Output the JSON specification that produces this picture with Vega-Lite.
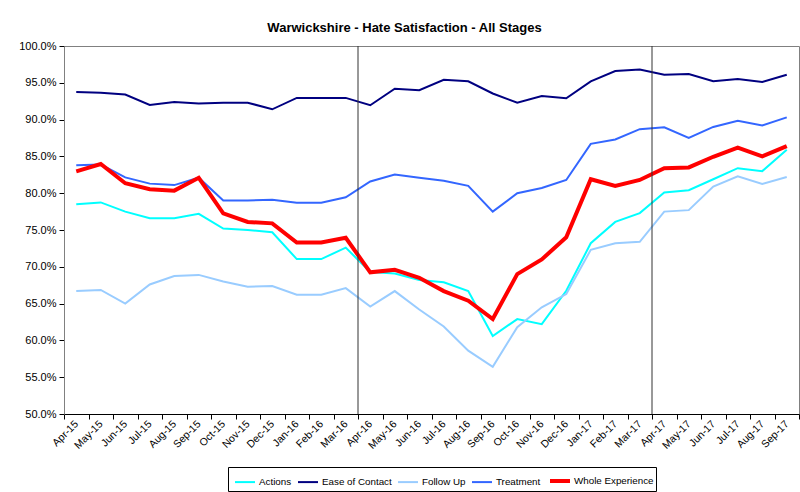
{
  "$schema": "https://vega.github.io/schema/vega-lite/v6.json",
  "width": 735,
  "height": 368,
  "autosize": {"type": "none"},
  "padding": {"left": 64, "top": 46, "right": 1, "bottom": 78},
  "background": "white",
  "config": {
    "font": "Liberation Sans",
    "view": {"stroke": "#808080", "strokeWidth": 1},
    "axis": {"labelFont": "Liberation Sans", "labelColor": "#000000", "grid": false}
  },
  "title": {
    "text": "Warwickshire - Hate Satisfaction - All Stages",
    "font": "Liberation Sans",
    "fontSize": 13,
    "fontWeight": "bold",
    "color": "#000000",
    "anchor": "middle",
    "dx": -27,
    "offset": 5
  },
  "layer": [
    {
      "data": {"values": [
        {"m":"Apr-15","s":"Actions","v":78.5},{"m":"May-15","s":"Actions","v":78.75},{"m":"Jun-15","s":"Actions","v":77.5},{"m":"Jul-15","s":"Actions","v":76.6},{"m":"Aug-15","s":"Actions","v":76.6},{"m":"Sep-15","s":"Actions","v":77.2},{"m":"Oct-15","s":"Actions","v":75.2},{"m":"Nov-15","s":"Actions","v":75.0},{"m":"Dec-15","s":"Actions","v":74.7},{"m":"Jan-16","s":"Actions","v":71.05},{"m":"Feb-16","s":"Actions","v":71.05},{"m":"Mar-16","s":"Actions","v":72.6},{"m":"Apr-16","s":"Actions","v":69.3},{"m":"May-16","s":"Actions","v":69.1},{"m":"Jun-16","s":"Actions","v":68.2},{"m":"Jul-16","s":"Actions","v":67.9},{"m":"Aug-16","s":"Actions","v":66.7},{"m":"Sep-16","s":"Actions","v":60.6},{"m":"Oct-16","s":"Actions","v":62.9},{"m":"Nov-16","s":"Actions","v":62.2},{"m":"Dec-16","s":"Actions","v":66.75},{"m":"Jan-17","s":"Actions","v":73.2},{"m":"Feb-17","s":"Actions","v":76.1},{"m":"Mar-17","s":"Actions","v":77.3},{"m":"Apr-17","s":"Actions","v":80.1},{"m":"May-17","s":"Actions","v":80.4},{"m":"Jun-17","s":"Actions","v":81.9},{"m":"Jul-17","s":"Actions","v":83.4},{"m":"Aug-17","s":"Actions","v":83.0},{"m":"Sep-17","s":"Actions","v":85.9},
        {"m":"Apr-15","s":"Ease of Contact","v":93.75},{"m":"May-15","s":"Ease of Contact","v":93.65},{"m":"Jun-15","s":"Ease of Contact","v":93.4},{"m":"Jul-15","s":"Ease of Contact","v":92.0},{"m":"Aug-15","s":"Ease of Contact","v":92.4},{"m":"Sep-15","s":"Ease of Contact","v":92.2},{"m":"Oct-15","s":"Ease of Contact","v":92.3},{"m":"Nov-15","s":"Ease of Contact","v":92.3},{"m":"Dec-15","s":"Ease of Contact","v":91.4},{"m":"Jan-16","s":"Ease of Contact","v":92.95},{"m":"Feb-16","s":"Ease of Contact","v":92.95},{"m":"Mar-16","s":"Ease of Contact","v":92.95},{"m":"Apr-16","s":"Ease of Contact","v":91.95},{"m":"May-16","s":"Ease of Contact","v":94.2},{"m":"Jun-16","s":"Ease of Contact","v":94.0},{"m":"Jul-16","s":"Ease of Contact","v":95.4},{"m":"Aug-16","s":"Ease of Contact","v":95.2},{"m":"Sep-16","s":"Ease of Contact","v":93.55},{"m":"Oct-16","s":"Ease of Contact","v":92.3},{"m":"Nov-16","s":"Ease of Contact","v":93.2},{"m":"Dec-16","s":"Ease of Contact","v":92.9},{"m":"Jan-17","s":"Ease of Contact","v":95.2},{"m":"Feb-17","s":"Ease of Contact","v":96.6},{"m":"Mar-17","s":"Ease of Contact","v":96.8},{"m":"Apr-17","s":"Ease of Contact","v":96.1},{"m":"May-17","s":"Ease of Contact","v":96.2},{"m":"Jun-17","s":"Ease of Contact","v":95.2},{"m":"Jul-17","s":"Ease of Contact","v":95.5},{"m":"Aug-17","s":"Ease of Contact","v":95.1},{"m":"Sep-17","s":"Ease of Contact","v":96.1},
        {"m":"Apr-15","s":"Follow Up","v":66.7},{"m":"May-15","s":"Follow Up","v":66.85},{"m":"Jun-15","s":"Follow Up","v":65.0},{"m":"Jul-15","s":"Follow Up","v":67.6},{"m":"Aug-15","s":"Follow Up","v":68.75},{"m":"Sep-15","s":"Follow Up","v":68.9},{"m":"Oct-15","s":"Follow Up","v":68.0},{"m":"Nov-15","s":"Follow Up","v":67.3},{"m":"Dec-15","s":"Follow Up","v":67.4},{"m":"Jan-16","s":"Follow Up","v":66.2},{"m":"Feb-16","s":"Follow Up","v":66.2},{"m":"Mar-16","s":"Follow Up","v":67.1},{"m":"Apr-16","s":"Follow Up","v":64.6},{"m":"May-16","s":"Follow Up","v":66.7},{"m":"Jun-16","s":"Follow Up","v":64.2},{"m":"Jul-16","s":"Follow Up","v":61.9},{"m":"Aug-16","s":"Follow Up","v":58.6},{"m":"Sep-16","s":"Follow Up","v":56.4},{"m":"Oct-16","s":"Follow Up","v":61.8},{"m":"Nov-16","s":"Follow Up","v":64.5},{"m":"Dec-16","s":"Follow Up","v":66.3},{"m":"Jan-17","s":"Follow Up","v":72.3},{"m":"Feb-17","s":"Follow Up","v":73.2},{"m":"Mar-17","s":"Follow Up","v":73.4},{"m":"Apr-17","s":"Follow Up","v":77.5},{"m":"May-17","s":"Follow Up","v":77.7},{"m":"Jun-17","s":"Follow Up","v":80.9},{"m":"Jul-17","s":"Follow Up","v":82.3},{"m":"Aug-17","s":"Follow Up","v":81.25},{"m":"Sep-17","s":"Follow Up","v":82.2},
        {"m":"Apr-15","s":"Treatment","v":83.8},{"m":"May-15","s":"Treatment","v":83.9},{"m":"Jun-15","s":"Treatment","v":82.15},{"m":"Jul-15","s":"Treatment","v":81.3},{"m":"Aug-15","s":"Treatment","v":81.1},{"m":"Sep-15","s":"Treatment","v":82.1},{"m":"Oct-15","s":"Treatment","v":79.0},{"m":"Nov-15","s":"Treatment","v":79.0},{"m":"Dec-15","s":"Treatment","v":79.1},{"m":"Jan-16","s":"Treatment","v":78.7},{"m":"Feb-16","s":"Treatment","v":78.7},{"m":"Mar-16","s":"Treatment","v":79.45},{"m":"Apr-16","s":"Treatment","v":81.6},{"m":"May-16","s":"Treatment","v":82.55},{"m":"Jun-16","s":"Treatment","v":82.1},{"m":"Jul-16","s":"Treatment","v":81.7},{"m":"Aug-16","s":"Treatment","v":81.0},{"m":"Sep-16","s":"Treatment","v":77.5},{"m":"Oct-16","s":"Treatment","v":80.0},{"m":"Nov-16","s":"Treatment","v":80.7},{"m":"Dec-16","s":"Treatment","v":81.8},{"m":"Jan-17","s":"Treatment","v":86.7},{"m":"Feb-17","s":"Treatment","v":87.3},{"m":"Mar-17","s":"Treatment","v":88.7},{"m":"Apr-17","s":"Treatment","v":88.95},{"m":"May-17","s":"Treatment","v":87.5},{"m":"Jun-17","s":"Treatment","v":89.0},{"m":"Jul-17","s":"Treatment","v":89.85},{"m":"Aug-17","s":"Treatment","v":89.2},{"m":"Sep-17","s":"Treatment","v":90.3},
        {"m":"Apr-15","s":"Whole Experience","v":82.97},{"m":"May-15","s":"Whole Experience","v":83.97},{"m":"Jun-15","s":"Whole Experience","v":81.35},{"m":"Jul-15","s":"Whole Experience","v":80.55},{"m":"Aug-15","s":"Whole Experience","v":80.35},{"m":"Sep-15","s":"Whole Experience","v":82.1},{"m":"Oct-15","s":"Whole Experience","v":77.25},{"m":"Nov-15","s":"Whole Experience","v":76.1},{"m":"Dec-15","s":"Whole Experience","v":75.9},{"m":"Jan-16","s":"Whole Experience","v":73.3},{"m":"Feb-16","s":"Whole Experience","v":73.3},{"m":"Mar-16","s":"Whole Experience","v":73.95},{"m":"Apr-16","s":"Whole Experience","v":69.25},{"m":"May-16","s":"Whole Experience","v":69.6},{"m":"Jun-16","s":"Whole Experience","v":68.5},{"m":"Jul-16","s":"Whole Experience","v":66.7},{"m":"Aug-16","s":"Whole Experience","v":65.4},{"m":"Sep-16","s":"Whole Experience","v":62.9},{"m":"Oct-16","s":"Whole Experience","v":69.0},{"m":"Nov-16","s":"Whole Experience","v":71.0},{"m":"Dec-16","s":"Whole Experience","v":74.0},{"m":"Jan-17","s":"Whole Experience","v":81.9},{"m":"Feb-17","s":"Whole Experience","v":81.0},{"m":"Mar-17","s":"Whole Experience","v":81.8},{"m":"Apr-17","s":"Whole Experience","v":83.4},{"m":"May-17","s":"Whole Experience","v":83.5},{"m":"Jun-17","s":"Whole Experience","v":84.95},{"m":"Jul-17","s":"Whole Experience","v":86.2},{"m":"Aug-17","s":"Whole Experience","v":85.0},{"m":"Sep-17","s":"Whole Experience","v":86.4}
      ]},
      "mark": {"type": "line", "strokeJoin": "miter"},
      "encoding": {
        "x": {
          "field": "m", "type": "ordinal", "bandPosition": 0.5,
          "scale": {"type": "band", "paddingInner": 0, "paddingOuter": 0,
            "domain": ["Apr-15","May-15","Jun-15","Jul-15","Aug-15","Sep-15","Oct-15","Nov-15","Dec-15","Jan-16","Feb-16","Mar-16","Apr-16","May-16","Jun-16","Jul-16","Aug-16","Sep-16","Oct-16","Nov-16","Dec-16","Jan-17","Feb-17","Mar-17","Apr-17","May-17","Jun-17","Jul-17","Aug-17","Sep-17"]},
          "axis": {
            "title": null, "tickBand": "extent", "labelAngle": -45, "labelAlign": "right", "labelBaseline": "middle",
            "labelFontSize": 10.5, "labelPadding": 3, "tickSize": 5, "tickColor": "#000000", "domainColor": "#000000", "labelOverlap": false
          }
        },
        "y": {
          "field": "v", "type": "quantitative",
          "scale": {"domain": [50, 100], "nice": false, "zero": false},
          "axis": {
            "title": null, "values": [50,55,60,65,70,75,80,85,90,95,100],
            "labelExpr": "format(datum.value, '.1f') + '%'",
            "labelFontSize": 11, "tickSize": 5, "tickColor": "#000000", "domainColor": "#808080", "labelPadding": 3
          }
        },
        "color": {
          "field": "s", "type": "nominal",
          "scale": {"domain": ["Actions","Ease of Contact","Follow Up","Treatment","Whole Experience"],
                    "range": ["#00FFFF","#000080","#99CCFF","#3366FF","#FF0000"]},
          "legend": {
            "title": null, "orient": "none", "legendX": 164, "legendY": 421, "direction": "horizontal", "columns": 5,
            "symbolType": "stroke", "symbolSize": 400, "symbolStrokeWidth": 2, "labelFontSize": 9.8, "labelColor": "#000000",
            "strokeColor": "#000000", "padding": 2, "columnPadding": 1, "labelOffset": 2, "symbolOffset": 3
          }
        },
        "strokeWidth": {
          "field": "s", "type": "nominal",
          "scale": {"type": "ordinal", "domain": ["Actions","Ease of Contact","Follow Up","Treatment","Whole Experience"], "range": [2,2,2,2,4]},
          "legend": null
        }
      }
    },
    {
      "data": {"values": [{"m": "Apr-16"}, {"m": "Apr-17"}]},
      "mark": {"type": "rule", "color": "#333333", "strokeWidth": 1},
      "encoding": {
        "x": {"field": "m", "type": "ordinal", "bandPosition": 0}
      }
    }
  ]
}
